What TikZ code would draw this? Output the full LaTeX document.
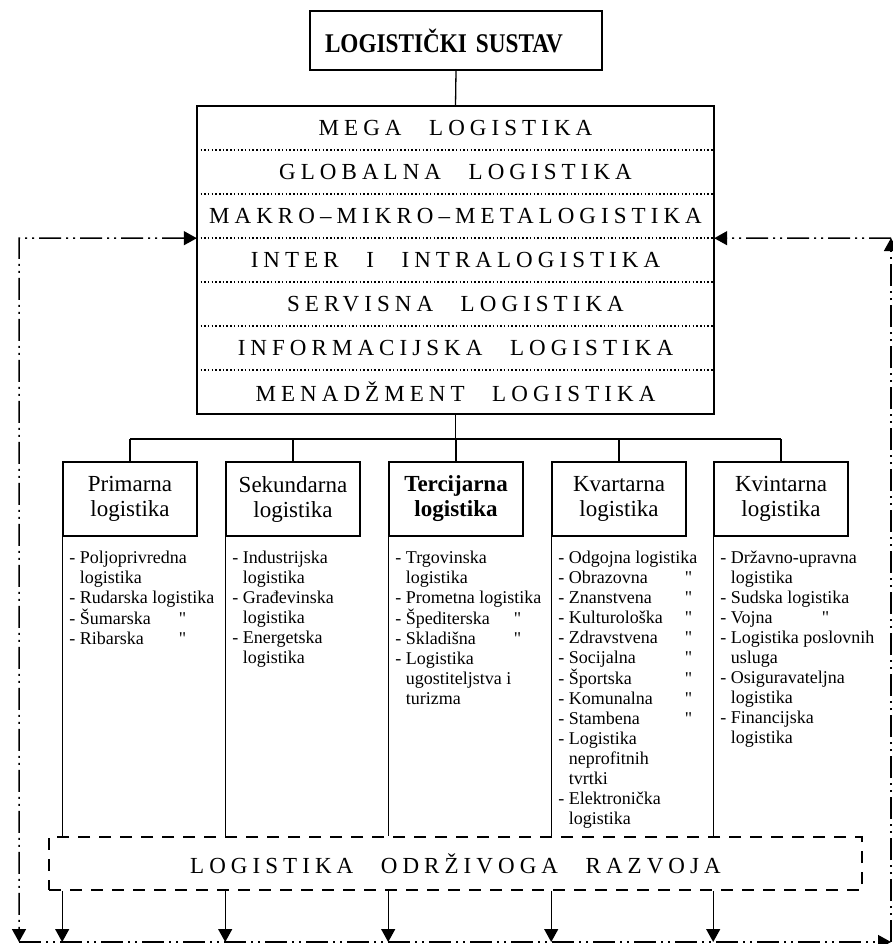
\documentclass[tikz,border=0pt]{standalone}
\usepackage{fontspec}
\setmainfont{Liberation Serif}
\newfontfamily\razmakfont[LetterSpace=22]{Liberation Serif}
\newfontfamily\sustavfont[FakeStretch=0.86]{Liberation Serif}
\newfontfamily\istofont[Ligatures=TeXOff]{Liberation Serif}
\usetikzlibrary{arrows.meta}

\newcommand{\isto}[2]{\makebox[#1][l]{#2}{\istofont"}}
\newcommand{\stavke}[1]{\begin{tabular}{@{}l@{\ }l@{}}#1\end{tabular}}
\newcommand{\rmak}{\hspace{1.2em}}

\tikzset{
  okvir/.style={draw, line width=1.6pt},
  razina/.style={minimum width=517pt, minimum height=44pt, inner sep=0pt,
    font=\razmakfont\fontsize{23}{26}\selectfont},
  naslov/.style={okvir, minimum width=134pt, minimum height=74pt, inner sep=0pt,
    align=center, font=\fontsize{23}{25}\selectfont},
  popis/.style={anchor=north west, inner sep=0pt, font=\fontsize{18}{20}\selectfont},
  veza/.style={line width=1.3pt},
  tocke/.style={line width=1.5pt, dash pattern=on 1.5pt off 2.2pt},
  crtkano/.style={draw, line width=1.6pt, dash pattern=on 12pt off 9pt},
  petlja/.style={line width=1.5pt, dash pattern=on 22pt off 5pt on 2pt off 5pt on 2pt off 5pt},
  vrh/.tip={Triangle[width=14pt,length=13pt]},
  strelica/.style={-vrh}
}

\begin{document}
\begin{tikzpicture}[x=1pt,y=-1pt]
\useasboundingbox (0,0) rectangle (893,944);

\node[okvir, minimum width=292pt, minimum height=59pt, inner xsep=0pt, text width=262pt, align=left,
  font=\sustavfont\bfseries\fontsize{27}{30}\selectfont] (sustav) at (456,40.5) {LOGISTIČKI SUSTAV};

\node[razina] (r1) at (455.5,128) {MEGA\rmak LOGISTIKA};
\node[razina] (r2) at (455.5,172) {GLOBALNA\rmak LOGISTIKA};
\node[razina] (r3) at (455.5,216) {MAKRO–MIKRO–METALOGISTIKA};
\node[razina] (r4) at (455.5,260) {INTER\rmak I\rmak INTRALOGISTIKA};
\node[razina] (r5) at (455.5,304) {SERVISNA\rmak LOGISTIKA};
\node[razina] (r6) at (455.5,348) {INFORMACIJSKA\rmak LOGISTIKA};
\node[razina] (r7) at (455.5,392) {MENADŽMENT\rmak LOGISTIKA};
\draw[okvir] (r1.north west) rectangle (r7.south east);
\foreach \r in {r1,r2,r3,r4,r5,r6}
  \draw[tocke] (\r.south west) -- (\r.south east);
\draw[veza] (sustav.south) -- (r1.north);

\node[naslov] (primarna) at (130,499) {Primarna\\logistika};
\node[naslov] (sekundarna) at (293,499) {Sekundarna\\logistika};
\node[naslov, font=\bfseries\fontsize{23}{25}\selectfont] (tercijarna) at (456,499) {Tercijarna\\logistika};
\node[naslov] (kvartarna) at (619,499) {Kvartarna\\logistika};
\node[naslov] (kvintarna) at (781,499) {Kvintarna\\logistika};

\coordinate (grana) at (455.5,439);
\draw[veza] (r7.south) -- (grana);
\draw[veza] (primarna.north |- grana) -- (kvintarna.north |- grana);
\foreach \n in {primarna,sekundarna,tercijarna,kvartarna,kvintarna}
  \draw[veza] (\n.north |- grana) -- (\n.north);

\node[popis] (primarnapopis) at ([shift={(7,12)}]primarna.south west) {\stavke{
  - & Poljoprivredna\\ & logistika\\ - & Rudarska logistika\\
  - & \isto{99pt}{Šumarska}\\ - & \isto{99pt}{Ribarska}}};
\node[popis] (sekundarnapopis) at ([shift={(7,12)}]sekundarna.south west) {\stavke{
  - & Industrijska\\ & logistika\\ - & Građevinska\\ & logistika\\
  - & Energetska\\ & logistika}};
\node[popis] (tercijarnapopis) at ([shift={(7,12)}]tercijarna.south west) {\stavke{
  - & Trgovinska\\ & logistika\\ - & Prometna logistika\\
  - & \isto{108pt}{Špediterska}\\ - & \isto{108pt}{Skladišna}\\
  - & Logistika\\ & ugostiteljstva i\\ & turizma}};
\node[popis] (kvartarnapopis) at ([shift={(7,12)}]kvartarna.south west) {\stavke{
  - & Odgojna logistika\\ - & \isto{116pt}{Obrazovna}\\ - & \isto{116pt}{Znanstvena}\\
  - & \isto{116pt}{Kulturološka}\\ - & \isto{116pt}{Zdravstvena}\\ - & \isto{116pt}{Socijalna}\\
  - & \isto{116pt}{Športska}\\ - & \isto{116pt}{Komunalna}\\ - & \isto{116pt}{Stambena}\\
  - & Logistika\\ & neprofitnih\\ & tvrtki\\ - & Elektronička\\ & logistika}};
\node[popis] (kvintarnapopis) at ([shift={(7,12)}]kvintarna.south west) {\stavke{
  - & Državno-upravna\\ & logistika\\ - & Sudska logistika\\ - & \isto{91pt}{Vojna}\\
  - & Logistika poslovnih\\ & usluga\\ - & Osiguravateljna\\ & logistika\\
  - & Financijska\\ & logistika}};

\node[crtkano, minimum width=813pt, minimum height=53pt, font=\razmakfont\fontsize{23}{26}\selectfont]
  (razvoj) at (455.5,863.5) {LOGISTIKA\rmak ODRŽIVOGA\rmak RAZVOJA};

\coordinate (lg) at (19,238);
\coordinate (ld) at (19,942);
\coordinate (dd) at (891,942);
\coordinate (dg) at (891,238);

\foreach \n in {primarna,sekundarna,tercijarna,kvartarna,kvintarna} {
  \draw[veza] (\n.south west) -- (\n.south west |- razvoj.north);
  \draw[veza, strelica] (\n.south west |- razvoj.south) -- (\n.south west |- ld);
}

\draw[petlja, vrh-vrh] (r3.south west) -- (lg) -- (ld);
\draw[petlja, strelica] (ld) -- (dd);
\draw[petlja, strelica] (dd) -- (dg);
\draw[petlja, strelica] (dg) -- (r3.south east);
\end{tikzpicture}
\end{document}
